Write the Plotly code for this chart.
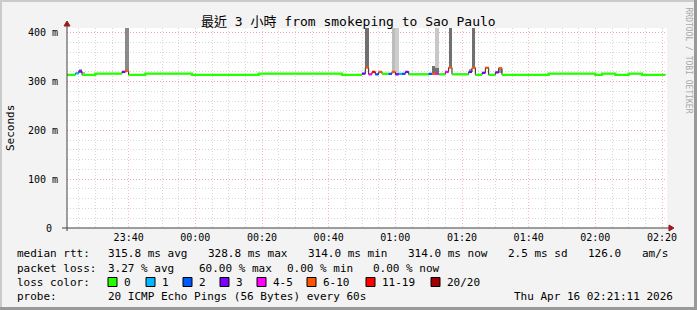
import plotly.graph_objects as go
from datetime import datetime, timedelta

# ---------------- data ----------------
START = "2026-04-15 23:21:00"       # first probe minute
RANGE = ["2026-04-15 23:21:30", "2026-04-16 02:21:30"]

median_ms = [
    314, 314, 314, 317, 321, 314, 314, 314, 314, 316.5, 316.5, 316.5, 316.5, 316.5, 316.5, 316.5, 316.5, 320, 322, 314,
    314, 314, 314, 314, 316.5, 316.5, 316.5, 316.5, 316.5, 316.5, 316.5, 316.5, 316.5, 316.5, 316.5, 316.5, 316.5, 316.5, 314, 314,
    314, 314, 314, 314, 314, 314, 314, 314, 314, 314, 314, 314, 314, 314, 314, 314, 314, 314, 316.5, 316.5,
    316.5, 316.5, 316.5, 316.5, 316.5, 316.5, 316.5, 316.5, 316.5, 316.5, 316.5, 316.5, 316.5, 316.5, 316.5, 316.5, 316.5, 316.5, 316.5, 316.5,
    316.5, 316.5, 316.5, 314, 314, 314, 314, 314, 314, 316.5, 328.8, 315, 320, 315, 320, 316, 316, 316, 320, 315,
    316, 316, 320, 315, 315, 315, 315, 315, 315, 316, 316, 316, 315, 315, 320, 328.8, 315, 315, 315, 315,
    315, 320, 328.5, 314, 314, 318, 328.5, 314, 314, 319, 327.5, 314, 314, 314, 314, 314, 314, 314, 314, 314,
    314, 314, 314, 314, 314, 316.5, 316.5, 316.5, 316.5, 316.5, 316.5, 316.5, 316.5, 316.5, 316.5, 316.5, 316.5, 316.5, 316.5, 314,
    314, 316.5, 316.5, 316.5, 316.5, 314, 314, 314, 314, 316.5, 316.5, 316.5, 316.5, 314, 314, 314, 314, 314, 314, 314,
]

lost_pings = [
    0, 0, 0, 1, 3, 0, 0, 0, 0, 0, 0, 0, 0, 0, 0, 0, 0, 3, 6, 0,
    0, 0, 0, 0, 0, 0, 0, 0, 0, 0, 0, 0, 0, 0, 0, 0, 0, 0, 0, 0,
    0, 0, 0, 0, 0, 0, 0, 0, 0, 0, 0, 0, 0, 0, 0, 0, 0, 0, 0, 0,
    0, 0, 0, 0, 0, 0, 0, 0, 0, 0, 0, 0, 0, 0, 0, 0, 0, 0, 0, 0,
    0, 0, 0, 0, 0, 0, 0, 0, 0, 3, 7, 4, 12, 2, 6, 0, 0, 2, 7, 3,
    1, 2, 3, 0, 0, 0, 0, 0, 0, 2, 6, 5, 0, 0, 4, 7, 0, 0, 0, 0,
    0, 3, 7, 0, 0, 3, 6, 0, 0, 3, 7, 0, 0, 0, 0, 0, 0, 0, 0, 0,
    0, 0, 0, 0, 0, 0, 0, 0, 0, 0, 0, 0, 0, 0, 0, 0, 0, 0, 0, 0,
    0, 0, 0, 0, 0, 0, 0, 0, 0, 0, 0, 0, 0, 0, 0, 0, 0, 0, 0, 0,
]

# smoke (ping spread) blocks: minute index, low ms, high ms, shade
smoke_idx = [4, 5, 18, 90, 98, 99, 110, 111, 111, 115, 121, 122, 130]
smoke_lo = [318, 314, 322, 329, 320, 315, 317, 316, 328, 329, 320, 329, 318]
smoke_hi = [326, 320, 450, 450, 450, 450, 332, 328, 450, 450, 325, 450, 326]
smoke_col = ["#aaaaaa", "#b4b4b4", "#8a8a8a", "#707070", "#bdbdbd", "#cdcdcd", "#707070",
             "#707070", "#c8c8c8", "#707070", "#9a9a9a", "#707070", "#999999"]

loss_labels = ["0", "1", "2", "3", "4-5", "6-10", "11-19", "20/20"]
loss_colors = ["#26ff00", "#00b8ff", "#0059ff", "#7e00ff", "#ff00ff", "#ff5500", "#ff0000", "#a10000"]

y_tickvals = [0, 100, 200, 300, 400]
y_ticktext = ["0\u00a0", "100 m", "200 m", "300 m", "400 m"]

title_text = "最近 3 小時 from smokeping to Sao Paulo"
legend_rows = [
    [(16, "median rtt:"), (107, "315.8 ms avg"), (207, "328.8 ms max"), (307, "314.0 ms min"),
     (407, "314.0 ms now"), (507, "2.5 ms sd"), (587, "126.0"), (641, "am/s")],
    [(16, "packet loss:"), (107, "3.27 % avg"), (198, "60.00 % max"), (286, "0.00 % min"), (372, "0.00 % now")],
    [(16, "loss color:")],
    [(16, "probe:"), (107, "20 ICMP Echo Pings (56 Bytes) every 60s"), (513, "Thu Apr 16 02:21:11 2026")],
]
legend_box_x = [108, 146, 183, 220, 257, 307, 366, 431]

# ---------------- geometry helpers ----------------
W, H = 697, 310
L, R, T, B = 67, 667, 28, 228


def PX(x):
    return (x - L) / (R - L)


def PY(y):
    return (B - y) / (B - T)


t0 = datetime.strptime(START, "%Y-%m-%d %H:%M:%S")
n = len(median_ms)
times = [t0 + timedelta(minutes=i) for i in range(n + 1)]


def bucket(l):
    if l == 0:
        return 0
    if l <= 3:
        return l
    if l <= 5:
        return 4
    if l <= 10:
        return 5
    if l <= 19:
        return 6
    return 7


fig = go.Figure()

# smoke
fig.add_trace(go.Bar(
    x=[times[i] + timedelta(seconds=30) for i in smoke_idx],
    y=[h - l for l, h in zip(smoke_lo, smoke_hi)],
    base=smoke_lo,
    width=60000,
    marker=dict(color=smoke_col, line=dict(width=0)),
    hoverinfo="skip",
))

# dark median line (shows the vertical joins between loss colours)
fig.add_trace(go.Scatter(
    x=times, y=median_ms + [median_ms[-1]], mode="lines",
    line=dict(color="#202020", width=1, shape="hv"), hoverinfo="skip",
))

# coloured median segments
buckets = [bucket(l) for l in lost_pings]
for b, col in enumerate(loss_colors):
    xs, ys = [], []
    i = 0
    while i < n:
        if buckets[i] == b:
            j = i
            while j + 1 < n and buckets[j + 1] == b:
                j += 1
            xs += times[i:j + 2] + [None]
            ys += median_ms[i:j + 1] + [median_ms[j], None]
            i = j + 1
        else:
            i += 1
    if xs:
        fig.add_trace(go.Scatter(x=xs, y=ys, mode="lines",
                                 line=dict(color=col, width=2.3, shape="hv"),
                                 connectgaps=False, hoverinfo="skip"))

mono = "DejaVu Sans Mono, Noto Sans CJK TC"
major = "rgba(240,140,140,0.6)"
minor = "rgba(190,190,190,0.6)"

fig.update_layout(
    width=W, height=H,
    margin=dict(l=L, r=W - R, t=T, b=H - B),
    paper_bgcolor="#f3f3f3", plot_bgcolor="#ffffff",
    showlegend=False, barmode="overlay", bargap=0,
    font=dict(family=mono, size=10, color="#000000"),
)
fig.update_xaxes(
    type="date", range=RANGE, tick0="2026-04-15 23:40:00", dtick=20 * 60 * 1000,
    tickformat="%H:%M", ticks="", showline=False, zeroline=False,
    showgrid=True, gridcolor=major, griddash="1px,2px", gridwidth=1,
    minor=dict(dtick=5 * 60 * 1000, showgrid=True, gridcolor=minor, griddash="1px,2px", gridwidth=1),
    tickfont=dict(family=mono, size=10), ticklabelstandoff=2,
)
fig.update_yaxes(
    range=[0, 410], tickvals=y_tickvals, ticktext=y_ticktext, ticks="",
    showline=False, zeroline=False,
    showgrid=True, gridcolor=major, griddash="1px,2px", gridwidth=1,
    minor=dict(tick0=0, dtick=20, showgrid=True, gridcolor=minor, griddash="1px,2px", gridwidth=1),
    tickfont=dict(family=mono, size=10), ticklabelstandoff=8,
)

shapes = []
axis_col = "#404040"
arrow_col = "#9b1c1c"
# axes
shapes.append(dict(type="line", xref="paper", yref="paper", x0=PX(67), x1=PX(67), y0=PY(231), y1=PY(24),
                   line=dict(color=axis_col, width=1)))
shapes.append(dict(type="line", xref="paper", yref="paper", x0=PX(62), x1=PX(670), y0=PY(228), y1=PY(228),
                   line=dict(color=axis_col, width=1)))
# arrows


def tri(pts):
    p = "M " + " L ".join(f"{PX(x):.5f} {PY(y):.5f}" for x, y in pts) + " Z"
    return dict(type="path", xref="paper", yref="paper", path=p,
                fillcolor=arrow_col, line=dict(color=arrow_col, width=1))


shapes.append(tri([(64, 26), (70, 26), (67, 21)]))
shapes.append(tri([(669, 225), (669, 231), (674, 228)]))

# frame
def prect(x0, y0, x1, y1, col):
    return dict(type="rect", xref="paper", yref="paper", x0=PX(x0), x1=PX(x1), y0=PY(y1), y1=PY(y0),
                fillcolor=col, line=dict(width=0), layer="above")


shapes.append(prect(0, 0, 697, 2, "#cbcbcb"))
shapes.append(prect(0, 0, 2, 310, "#cbcbcb"))
shapes.append(prect(0, 307, 697, 310, "#999999"))
shapes.append(prect(694, 0, 697, 310, "#999999"))

# legend colour boxes
for bx, col in zip(legend_box_x, loss_colors):
    shapes.append(dict(type="rect", xref="paper", yref="paper",
                       x0=PX(bx), x1=PX(bx + 9), y0=PY(286.5), y1=PY(277.5),
                       fillcolor=col, line=dict(color="#000000", width=1)))

annotations = []
annotations.append(dict(text=title_text, x=PX(348), y=PY(22), xref="paper", yref="paper",
                        showarrow=False, xanchor="center", yanchor="middle",
                        font=dict(family=mono, size=13, color="#000000")))
annotations.append(dict(text="Seconds", x=PX(10), y=PY(128), xref="paper", yref="paper",
                        showarrow=False, textangle=-90, xanchor="center", yanchor="middle",
                        font=dict(family=mono, size=11, color="#000000")))
annotations.append(dict(text="RRDTOOL / TOBI OETIKER", x=PX(688.5), y=PY(60), xref="paper", yref="paper",
                        showarrow=False, textangle=90, xanchor="center", yanchor="middle",
                        font=dict(family=mono, size=8, color="#a8a8a8")))

row_y = [254, 268, 282, 296]
for yy, row in zip(row_y, legend_rows):
    for xx, txt in row:
        annotations.append(dict(text=txt, x=PX(xx - 1), y=PY(yy), xref="paper", yref="paper",
                                showarrow=False, xanchor="left", yanchor="middle",
                                font=dict(family=mono, size=11, color="#000000")))
for bx, lab in zip(legend_box_x, loss_labels):
    annotations.append(dict(text=lab, x=PX(bx + 14), y=PY(282), xref="paper", yref="paper",
                            showarrow=False, xanchor="left", yanchor="middle",
                            font=dict(family=mono, size=11, color="#000000")))

fig.update_layout(shapes=shapes, annotations=annotations)
fig.write_html("out.html")
